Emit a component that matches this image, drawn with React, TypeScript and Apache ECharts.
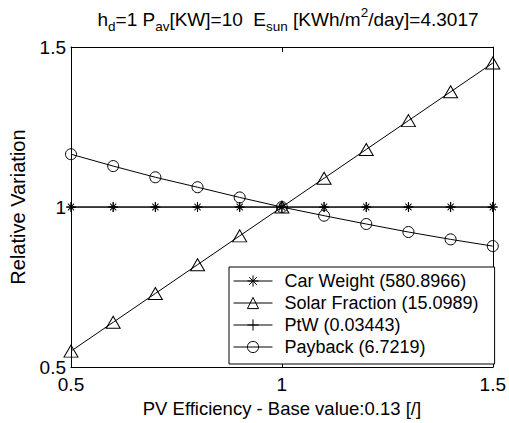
import React, { useEffect, useRef } from "react";
import * as echarts from "echarts";

const xValues = [0.5, 0.6, 0.7, 0.8, 0.9, 1.0, 1.1, 1.2, 1.3, 1.4, 1.5];
const carWeight = [1, 1, 1, 1, 1, 1, 1, 1, 1, 1, 1];
const solarFraction = [0.55, 0.64, 0.73, 0.82, 0.91, 1.0, 1.09, 1.18, 1.27, 1.36, 1.45];
const ptw = [1, 1, 1, 1, 1, 1, 1, 1, 1, 1, 1];
const payback = [1.165, 1.128, 1.093, 1.062, 1.03, 1.0, 0.973, 0.947, 0.922, 0.899, 0.878];
const seriesNames = [
  "Car Weight (580.8966)",
  "Solar Fraction (15.0989)",
  "PtW (0.03443)",
  "Payback (6.7219)",
];
const axisTicks = [0.5, 1, 1.5];

const STAR = "path://M5,0L5,10M0,5L10,5M1.6,1.6L8.4,8.4M8.4,1.6L1.6,8.4";
const PLUS = "path://M5,0L5,10M0,5L10,5";
const FONT = "Liberation Sans, Arial, sans-serif";

export default function App() {
  const ref = useRef<HTMLDivElement>(null);
  useEffect(() => {
    if (!ref.current) return;
    const chart = echarts.init(ref.current, undefined, { renderer: "svg" });
    const pair = (ys: number[]) => xValues.map((x, i) => [x, ys[i]]);
    const hollow = { color: "rgba(0,0,0,0)", borderColor: "#000", borderWidth: 1 };
    const line = { color: "#000", width: 1 };
    const axisCommon = {
      type: "value" as const,
      min: 0.5,
      max: 1.5,
      interval: 0.5,
      splitLine: { show: false },
      axisLine: { show: true, onZero: false, lineStyle: { color: "#000", width: 1 } },
      axisTick: { show: true, inside: true, length: 5, lineStyle: { color: "#000" } },
    };
    chart.setOption({
      animation: false,
      backgroundColor: "#fff",
      textStyle: { fontFamily: FONT },
      grid: { left: 71, right: 12, top: 47, bottom: 54 },
      graphic: [
        {
          type: "text",
          x: 288,
          y: 19,
          style: {
            text: "{n|h}{s|d}{n|=1 P}{s|av}{n|[KW]=10  E}{s|sun}{n| [KWh/m}{p|2}{n|/day]=4.3017}",
            align: "center",
            verticalAlign: "middle",
            fill: "#000",
            rich: {
              n: { fontSize: 19, lineHeight: 28, fontFamily: FONT, fill: "#000" },
              s: { fontSize: 13.5, lineHeight: 15, verticalAlign: "bottom", fontFamily: FONT, fill: "#000" },
              p: { fontSize: 13.5, lineHeight: 15, verticalAlign: "top", fontFamily: FONT, fill: "#000" },
            },
          },
        },
      ],
      xAxis: [
        {
          ...axisCommon,
          position: "bottom",
          name: "PV Efficiency - Base value:0.13 [/]",
          nameLocation: "middle",
          nameGap: 29,
          nameTextStyle: { color: "#000", fontSize: 18.5, fontFamily: FONT },
          axisLabel: {
            color: "#000",
            fontSize: 19,
            margin: 8,
            fontFamily: FONT,
            formatter: (v: number) => (axisTicks.includes(v) ? String(v) : ""),
          },
        },
        {
          ...axisCommon,
          position: "top",
          axisLabel: { show: false },
        },
      ],
      yAxis: [
        {
          ...axisCommon,
          position: "left",
          name: "Relative Variation",
          nameLocation: "middle",
          nameGap: 43,
          nameTextStyle: { color: "#000", fontSize: 20, fontFamily: FONT },
          axisLabel: {
            color: "#000",
            fontSize: 19,
            margin: 5,
            fontFamily: FONT,
            formatter: (v: number) => String(v),
          },
        },
        {
          ...axisCommon,
          position: "right",
          axisLabel: { show: false },
        },
      ],
      legend: {
        left: 229,
        top: 267,
        orient: "vertical",
        itemWidth: 39,
        itemHeight: 14,
        itemGap: 4,
        padding: [5, 16, 8, 4],
        borderColor: "#000",
        borderWidth: 1,
        borderRadius: 0,
        backgroundColor: "#fff",
        lineStyle: { width: 1, color: "#000" },
        itemStyle: { color: "rgba(0,0,0,0)", borderColor: "#000", borderWidth: 1 },
        textStyle: { color: "#000", fontSize: 18, fontFamily: FONT, padding: [0, 0, 0, 7] },
        data: seriesNames,
      },
      series: [
        {
          name: seriesNames[0],
          type: "line",
          data: pair(carWeight),
          symbol: STAR,
          symbolSize: [9, 10],
          lineStyle: line,
          itemStyle: hollow,
          z: 3,
        },
        {
          name: seriesNames[1],
          type: "line",
          data: pair(solarFraction),
          symbol: "triangle",
          symbolSize: [14, 12],
          lineStyle: line,
          itemStyle: hollow,
          z: 3,
        },
        {
          name: seriesNames[2],
          type: "line",
          data: pair(ptw),
          symbol: PLUS,
          symbolSize: 10,
          lineStyle: line,
          itemStyle: hollow,
          z: 3,
        },
        {
          name: seriesNames[3],
          type: "line",
          data: pair(payback),
          symbol: "circle",
          symbolSize: 11,
          lineStyle: line,
          itemStyle: hollow,
          z: 3,
        },
      ],
    });
    return () => chart.dispose();
  }, []);
  return <div ref={ref} style={{ width: 509, height: 423, position: "absolute", left: 0, top: 0 }} />;
}
